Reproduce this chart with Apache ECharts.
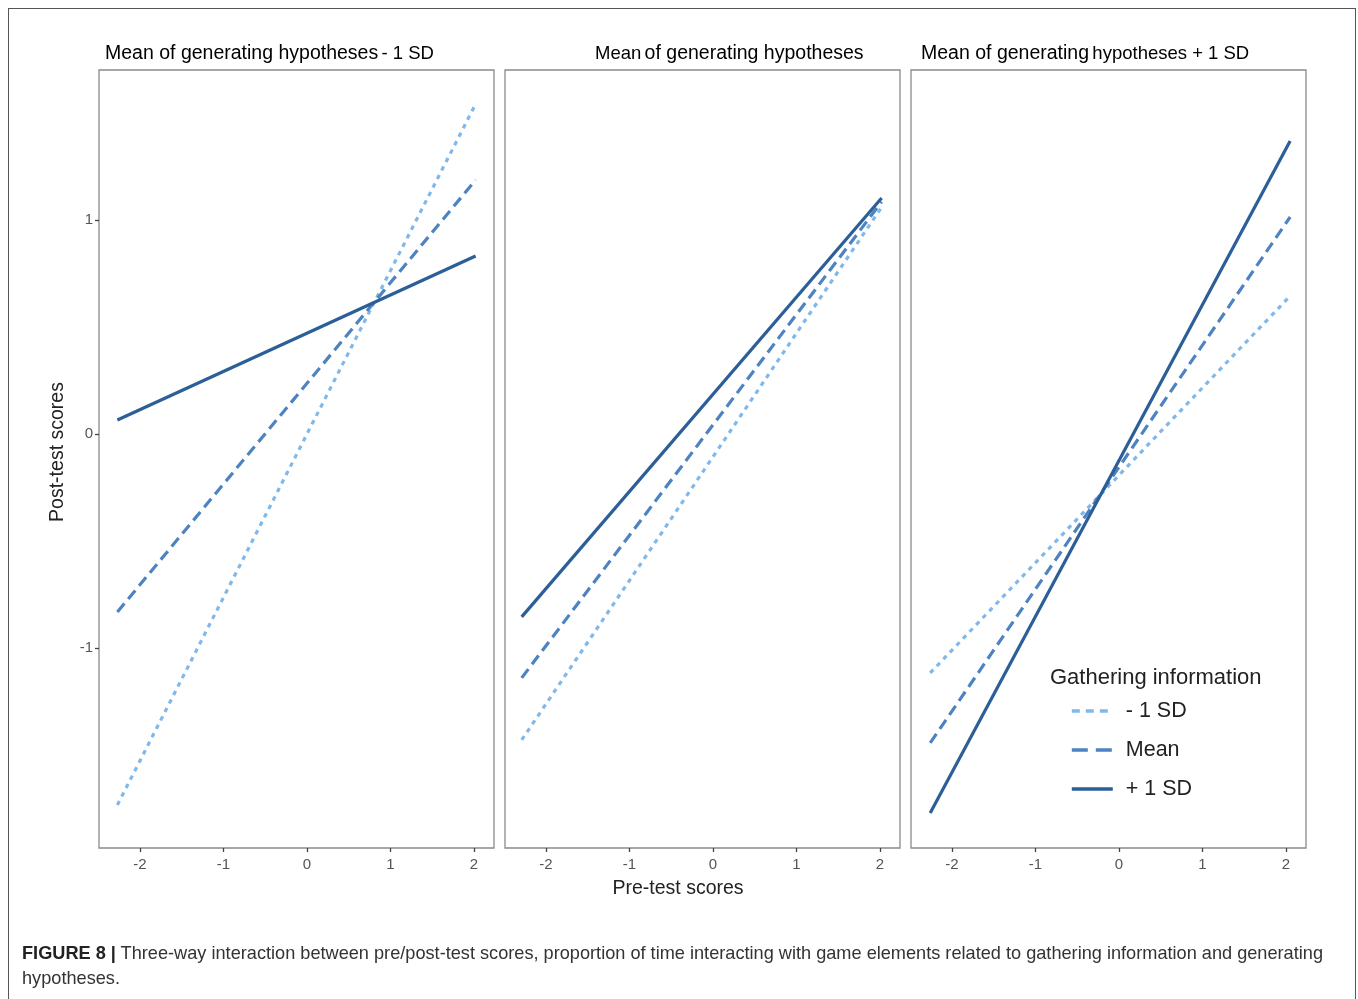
<!DOCTYPE html>
<html>
<head>
<meta charset="utf-8">
<script src="https://cdn.jsdelivr.net/npm/echarts@6/dist/echarts.min.js"></script>
<style>
  html, body { margin: 0; padding: 0; background: #fff; }
  #frame { position: absolute; left: 8px; top: 8px; width: 1348px; height: 1010px; border: 1px solid #555; box-sizing: border-box; }
  #chart { position: absolute; left: 0; top: 0; width: 1358px; height: 999px; }
  .cap { position: absolute; left: 22px; white-space: nowrap; transform-origin: 0 0; font-family: "Liberation Sans", Arial, sans-serif; font-size: 19px; line-height: 25px; color: #333; }
  .cap b { color: #222; }
</style>
</head>
<body>
<div id="frame"></div>
<div id="chart"></div>
<div class="cap" id="cap1" style="top:940px"><b>FIGURE 8 |</b> Three-way interaction between pre/post-test scores, proportion of time interacting with game elements related to gathering information and generating</div>
<div class="cap" id="cap2" style="top:965px">hypotheses.</div>
<script>
// ---- data ----
const seriesNames = ['- 1 SD', 'Mean', '+ 1 SD'];          // Gathering information levels
const xStart = [-2.27, -2.29, -2.26];                        // pre-test start per panel
const xEnd   = [2.02, 2.02, 2.05];                           // pre-test end per panel
const lowGather  = [[-1.734, 1.542], [-1.43, 1.06], [-1.117, 0.645]];   // - 1 SD
const meanGather = [[-0.832, 1.187], [-1.14, 1.085], [-1.444, 1.014]];  // Mean
const highGather = [[0.065, 0.832], [-0.855, 1.103], [-1.771, 1.369]];  // + 1 SD
const xTicks = [-2, -1, 0, 1, 2];
const yTicks = [-1, 0, 1];

const colors = ['#80b8ea', '#4d83c1', '#2c5e97'];
const dashes = [[4.5, 5], [11, 6], 'solid'];
const legendDashes = [[8, 6], [16, 8], 'solid'];
const gridLefts = [99, 505, 911];
const gridW = 395, gridTop = 70, gridH = 778;
const font = '"Liberation Sans", Arial, sans-serif';

// condensed caption: fit first line to the reference width
const c1 = document.getElementById('cap1');
const sc = 1301 / c1.getBoundingClientRect().width;
c1.style.transform = 'scaleX(' + sc + ')';
document.getElementById('cap2').style.transform = 'scaleX(' + sc + ')';

const chart = echarts.init(document.getElementById('chart'));
const grids = [], xAxes = [], yAxes = [], series = [];
const groups = [lowGather, meanGather, highGather];
for (let p = 0; p < 3; p++) {
  grids.push({ left: gridLefts[p], top: gridTop, width: gridW, height: gridH, show: true, borderColor: '#8a8a8a', borderWidth: 1.3, backgroundColor: '#fff' });
  xAxes.push({
    type: 'value', gridIndex: p, min: -2.49, max: 2.24,
    splitLine: { show: false }, axisLine: { show: false, onZero: false },
    axisTick: { show: true, length: 4, customValues: xTicks, lineStyle: { color: '#444', width: 1.3 } },
    axisLabel: { customValues: xTicks, margin: 9, fontSize: 15, color: '#555', fontFamily: font }
  });
  yAxes.push({
    type: 'value', gridIndex: p, min: -1.935, max: 1.701,
    splitLine: { show: false }, axisLine: { show: false, onZero: false },
    axisTick: { show: p === 0, length: 4, customValues: yTicks, lineStyle: { color: '#444', width: 1.3 } },
    axisLabel: { show: p === 0, customValues: yTicks, margin: 6, fontSize: 15, color: '#555', fontFamily: font }
  });
  for (let s = 0; s < 3; s++) {
    series.push({
      type: 'line', name: seriesNames[s], xAxisIndex: p, yAxisIndex: p,
      data: [[xStart[p], groups[s][p][0]], [xEnd[p], groups[s][p][1]]],
      symbol: 'none', silent: true, animation: false,
      lineStyle: { color: colors[s], width: 3.2, type: dashes[s] },
      itemStyle: { color: colors[s] }, z: 2 + s
    });
  }
}

const titleDark = { color: '#222', fontSize: 19.5, fontFamily: font };
const titleLight = { color: '#444', fontSize: 18.5, fontFamily: font };
const option = {
  animation: false,
  backgroundColor: 'transparent',
  grid: grids, xAxis: xAxes, yAxis: yAxes, series: series,
  legend: {
    orient: 'vertical', left: 1065, top: 695, itemWidth: 41, itemHeight: 14, itemGap: 17,
    data: seriesNames.map((n, i) => ({ name: n, lineStyle: { type: legendDashes[i], width: 3.6, color: colors[i] } })),
    itemStyle: { opacity: 0 },
    textStyle: { fontSize: 21.5, color: '#222', fontFamily: font, padding: [0, 0, 0, 8] }
  },
  graphic: [
    { type: 'text', left: 105, top: 44, style: { text: '{d|Mean of generating hypotheses} {l|- 1 SD}', rich: { d: titleDark, l: titleLight } } },
    { type: 'text', left: 595, top: 44, style: { text: '{l|Mean} {d|of generating hypotheses}', rich: { d: titleDark, l: titleLight } } },
    { type: 'text', left: 921, top: 44, style: { text: '{d|Mean of generating} {l|hypotheses + 1 SD}', rich: { d: titleDark, l: titleLight } } },
    { type: 'text', left: 1050, top: 667, style: { text: 'Gathering information', fill: '#222', fontSize: 22, fontFamily: font } },
    { type: 'text', x: 678, y: 889, style: { text: 'Pre-test scores', fill: '#222', fontSize: 19.5, fontFamily: font, align: 'center', verticalAlign: 'middle' } },
    { type: 'text', x: 58, y: 452, rotation: Math.PI / 2, style: { text: 'Post-test scores', fill: '#222', fontSize: 19.5, fontFamily: font, align: 'center', verticalAlign: 'middle' } }
  ]
};
chart.setOption(option);
</script>
</body>
</html>
